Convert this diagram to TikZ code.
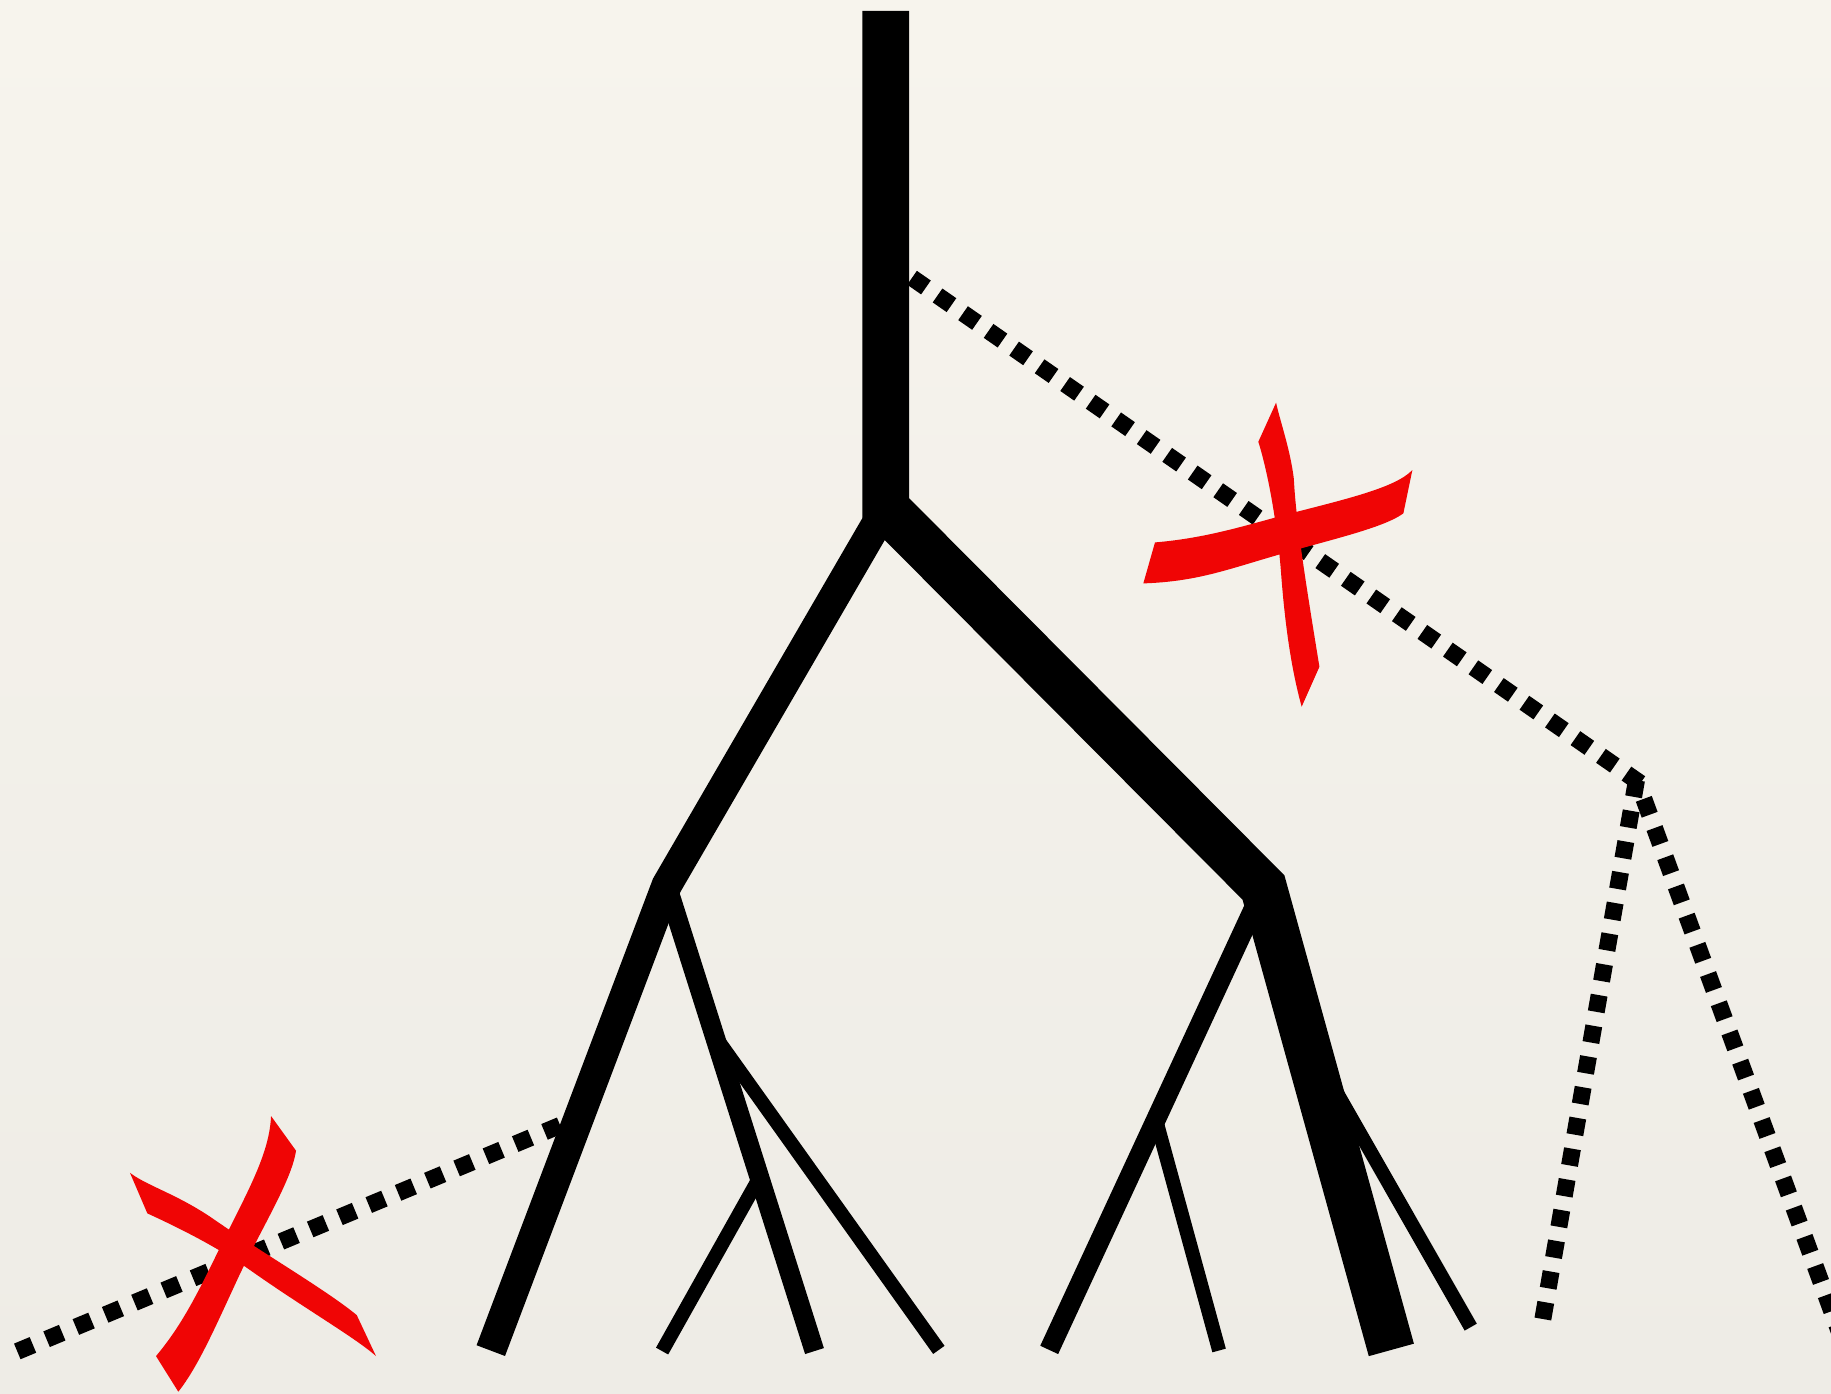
\documentclass[tikz,border=0pt]{standalone}
\usepackage{xcolor}
\usepackage{tikz}
\usetikzlibrary{calc}

\definecolor{paper}{RGB}{247,244,237}
\definecolor{paperlow}{RGB}{238,236,230}
\definecolor{crossred}{RGB}{240,5,5}

\begin{document}
\begin{tikzpicture}[
    x=0.01cm, y=-0.01cm,
    branch/.style={draw=black, line cap=butt, line join=miter, miter limit=12},
    trunk/.style={branch, line width=11.4pt},
    limb/.style={branch, line width=7.4pt},
    shoot/.style={branch, line width=4.8pt},
    twig/.style={branch, line width=3.4pt},
    dotmark/.style={fill=black, draw=none, inner sep=0pt, minimum size=0.145cm, rectangle},
    redx/.style={fill=crossred, draw=none},
]

% === Paper ===
\shade[top color=paper, bottom color=paperlow] (0,0) rectangle (1568,1193);
\useasboundingbox (0,0) rectangle (1568,1193);
\clip (0,0) rectangle (1568,1193);

% === Junctions and tips ===
\coordinate (top) at (758.6,9.4);
\coordinate (fork) at (758.6,435);
\coordinate (fork_in) at (758.6,400);
\coordinate (left_node) at (571,758);
\coordinate (right_node) at (1082,760);
\coordinate (d_node) at (611,885.5);
\coordinate (e_node) at (650,1009);
\coordinate (f_node) at (990,959);
\coordinate (g_node) at (1117,887);

\coordinate (leaf_a) at (420.3,1156.6);
\coordinate (leaf_b) at (567,1157);
\coordinate (leaf_c) at (697.5,1157);
\coordinate (leaf_d) at (804,1156);
\coordinate (leaf_e) at (898.5,1156);
\coordinate (leaf_f) at (1044,1156.5);
\coordinate (leaf_g) at (1191.5,1156);
\coordinate (leaf_h) at (1259.5,1136.5);

% --- ends of the dotted lines ---
\coordinate (trunk_exit) at (787,242);
\coordinate (bend) at (1398.8,666.6);
\coordinate (bend_a) at (1400.2,675.2);
\coordinate (bend_b) at (1410.2,690.9);
\coordinate (lost_a) at (1322.5,1122.4);
\coordinate (lost_b) at (1575.3,1141);
\coordinate (limb_exit) at (473,966.5);
\coordinate (lost_c) at (21.5,1154.5);

% === Dotted lineages (behind the tree) ===
% square dots, about one every 26.7 units
\foreach \a/\b/\n/\ang in {trunk_exit/bend/28/-34.8, bend_a/lost_a/17/-99.9,
                           bend_b/lost_b/18/-69.9, limb_exit/lost_c/18/22.6} {
    \foreach \k in {0,...,\n} {
        \node[dotmark, rotate=\ang] at ($(\a)!\k/\n!(\b)$) {};
    }
}

% === Tree ===
\draw[limb] (fork_in) -- (fork) -- (left_node) -- (leaf_a);
\draw[trunk] (top) -- (fork) -- (right_node) -- (leaf_g);

% left subtree
\draw[shoot] (left_node) -- (leaf_c);
\draw[twig] (d_node) -- (leaf_d);
\draw[twig] (e_node) -- (leaf_b);

% right subtree
\draw[shoot] (right_node) -- (leaf_e);
\draw[twig] (f_node) -- (leaf_f);
\draw[twig] (g_node) -- (leaf_h);

% === Red crosses ===
% upper cross
\fill[redx] (1092.8,344.8) -- (1077.6,378.3)
    .. controls (1086,405) and (1094,450) .. (1097,490)
    .. controls (1100,530) and (1105,570) .. (1114.7,605.2)
    -- (1129.9,571)
    .. controls (1120,510) and (1110,450) .. (1108,410)
    .. controls (1105,385) and (1096,360) .. cycle;
\fill[redx] (979.1,499.6) -- (989.1,464.5)
    .. controls (1030,461) and (1060,452) .. (1100,441)
    .. controls (1150,428) and (1195,418) .. (1209.5,402.5)
    -- (1201.8,439.6)
    .. controls (1185,452) and (1140,462) .. (1095,475)
    .. controls (1050,488) and (1025,498) .. cycle;

% lower cross
\fill[redx] (232.1,955.7)
    .. controls (231,985) and (215,1015) .. (195,1055)
    .. controls (175,1095) and (160,1130) .. (133.6,1161.3)
    -- (152.7,1191.8)
    .. controls (170,1170) and (185,1135) .. (205,1092)
    .. controls (225,1050) and (250,1010) .. (253.5,985.4)
    -- cycle;
\fill[redx] (111.3,1004.3)
    .. controls (125,1015) and (150,1022) .. (180,1042)
    .. controls (220,1070) and (280,1105) .. (305.5,1126.2)
    -- (322,1161.3)
    .. controls (305,1146) and (260,1120) .. (214.1,1087.6)
    .. controls (185,1067) and (150,1050) .. (126.2,1039.1)
    -- cycle;

\end{tikzpicture}
\end{document}
